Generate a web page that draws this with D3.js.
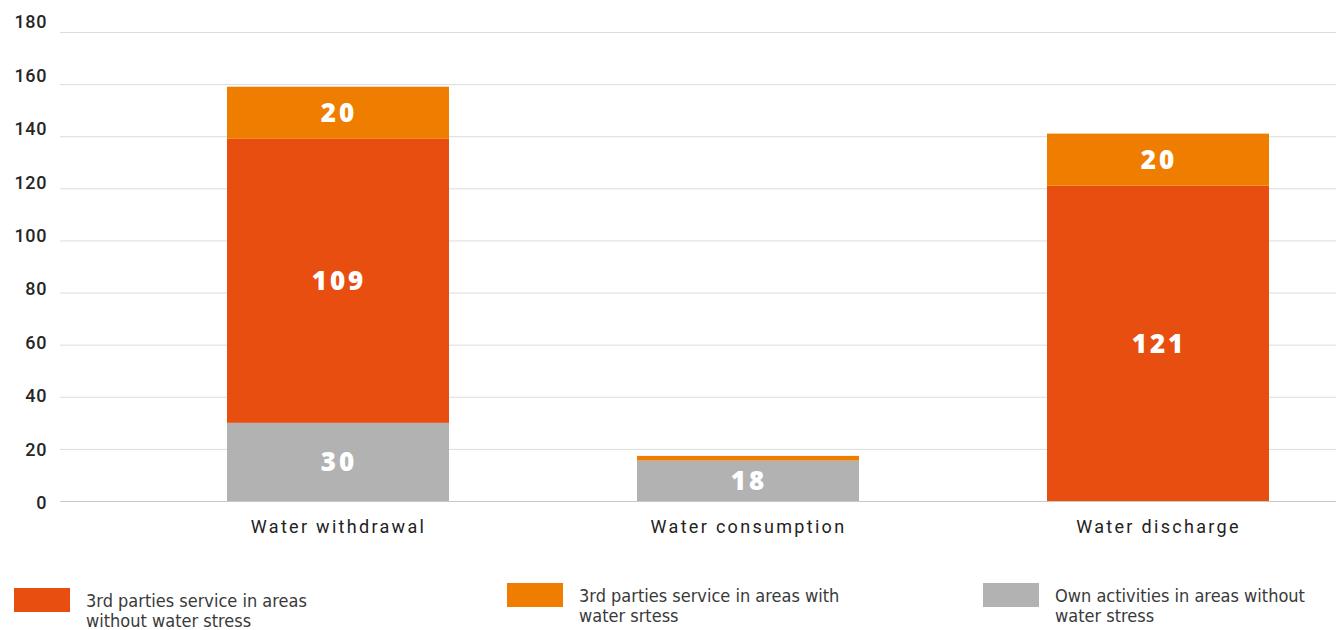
<!DOCTYPE html>
<html>
<head>
<meta charset="utf-8">
<script src="https://cdn.jsdelivr.net/npm/d3@7"></script>
<style>
  body { margin: 0; background: #fff; }
  svg { display: block; }
</style>
</head>
<body>
<div id="chart"></div>
<script>
// categories and stacked values (bottom to top)
var categories = ["Water withdrawal", "Water consumption", "Water discharge"];
var ownNoStress = [30, 15.5, 0];
var thirdNoStress = [109, 0, 121];
var thirdStress = [20, 1.8, 20];
// labels printed inside the segments
var labelsOwn = ["30", "18", ""];
var labelsThirdNo = ["109", "", "121"];
var labelsThirdStress = ["20", "", "20"];
var yTicks = [0, 20, 40, 60, 80, 100, 120, 140, 160, 180];

var series = [
    {key: "own", values: ownNoStress, labels: labelsOwn, color: "#b2b2b2",
     legend: ["Own activities in areas without", "water stress"]},
    {key: "thirdNo", values: thirdNoStress, labels: labelsThirdNo, color: "#e84e0f",
     legend: ["3rd parties service in areas", "without water stress"]},
    {key: "thirdStress", values: thirdStress, labels: labelsThirdStress, color: "#ef7d00",
     legend: ["3rd parties service in areas with", "water srtess"]}
];

var width = 1336, height = 630;

var svg = d3.select("#chart").append("svg")
    .attr("width", width)
    .attr("height", height);

var y = d3.scaleLinear().domain([0, 180]).range([501, 32]);
// tick labels in the original sit on a slightly wider spread than the grid
var yLab = d3.scaleLinear().domain([0, 180]).range([503, 22]);
var x = d3.scalePoint().domain(categories).range([338, 1158]);
var barW = 222;

// gridlines
svg.append("g")
    .selectAll("line")
    .data(yTicks)
    .enter().append("line")
    .attr("x1", 60).attr("x2", width)
    .attr("y1", function(d) { return y(d) + 0.5; })
    .attr("y2", function(d) { return y(d) + 0.5; })
    .attr("stroke", function(d) { return d === 0 ? "#c8c8c8" : "#dcdcdc"; })
    .attr("stroke-width", 1);

// y axis labels
svg.append("g")
    .attr("transform", "translate(47,0)")
    .call(d3.axisLeft(yLab).tickValues(yTicks).tickSize(0).tickPadding(0))
    .call(function(g) { g.select(".domain").remove(); })
    .selectAll("text")
    .attr("font-family", "Roboto, sans-serif")
    .attr("font-weight", 500)
    .attr("font-size", 18)
    .attr("fill", "#262626")
    .attr("letter-spacing", 0.6);

// stack
var rows = categories.map(function(c, i) {
    var r = {cat: c};
    series.forEach(function(s) { r[s.key] = s.values[i]; });
    return r;
});
var stack = d3.stack().keys(series.map(function(s) { return s.key; }));
var stacked = stack(rows);

var layers = svg.append("g").selectAll("g")
    .data(stacked)
    .enter().append("g")
    .attr("fill", function(d, i) { return series[i].color; });

layers.selectAll("rect")
    .data(function(d) { return d; })
    .enter().append("rect")
    .attr("x", function(d) { return x(d.data.cat) - barW / 2; })
    .attr("width", barW)
    .attr("y", function(d) { return y(d[1]); })
    .attr("height", function(d) { return y(d[0]) - y(d[1]); });

// value labels
stacked.forEach(function(layer, si) {
    svg.append("g").selectAll("text")
        .data(layer)
        .enter().append("text")
        .attr("x", function(d) { return x(d.data.cat) + 1; })
        .attr("y", function(d) { return (y(d[0]) + y(d[1])) / 2; })
        .attr("dy", "0.36em")
        .attr("text-anchor", "middle")
        .attr("font-family", "'Open Sans', sans-serif")
        .attr("font-weight", 800)
        .attr("font-size", 26)
        .attr("letter-spacing", 3)
        .attr("fill", "#fff")
        .text(function(d, i) { return series[si].labels[i]; });
});

// x axis labels
svg.append("g")
    .attr("transform", "translate(0,501)")
    .call(d3.axisBottom(x).tickSize(0).tickPadding(19))
    .call(function(g) { g.select(".domain").remove(); })
    .selectAll("text")
    .attr("font-family", "Roboto, sans-serif")
    .attr("font-size", 18)
    .attr("letter-spacing", 2.3)
    .attr("fill", "#222");

// legend
var legendItems = [
    {s: series[1], x: 14, y: 588},
    {s: series[2], x: 507, y: 583},
    {s: series[0], x: 983, y: 583}
];
var legend = svg.append("g").selectAll("g")
    .data(legendItems)
    .enter().append("g")
    .attr("transform", function(d) { return "translate(" + d.x + "," + d.y + ")"; });

legend.append("rect")
    .attr("width", 56).attr("height", 24)
    .attr("fill", function(d) { return d.s.color; });

legend.append("text")
    .attr("x", 72)
    .attr("y", 19)
    .attr("font-family", "'DejaVu Sans Condensed', 'Liberation Sans Narrow', sans-serif")
    .attr("font-stretch", "condensed")
    .attr("font-size", 18)
    .attr("fill", "#3a3a3a")
    .selectAll("tspan")
    .data(function(d) { return d.s.legend; })
    .enter().append("tspan")
    .attr("x", 72)
    .attr("dy", function(d, i) { return i === 0 ? 0 : 20; })
    .text(function(d) { return d; });
</script>
</body>
</html>
